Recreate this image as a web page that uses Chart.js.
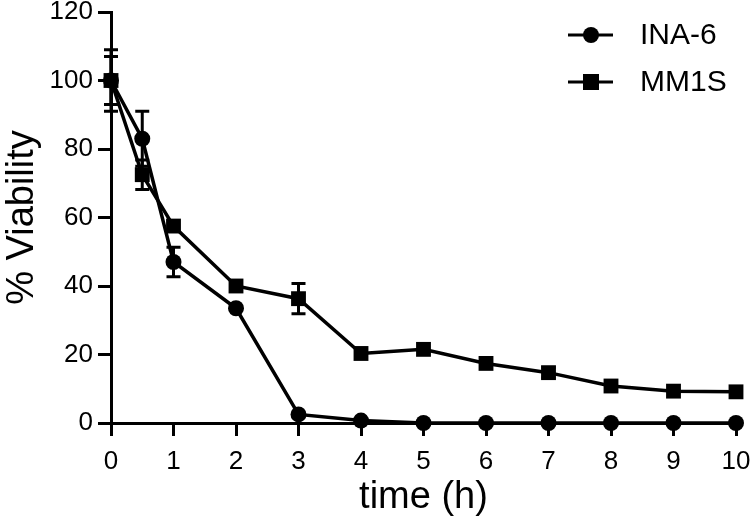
<!DOCTYPE html>
<html>
<head>
<meta charset="utf-8">
<script src="https://cdn.jsdelivr.net/npm/chart.js@4"></script>
<style>
  html, body { margin: 0; padding: 0; background: #fff; }
  #wrap { width: 750px; height: 527px; }
</style>
</head>
<body>
<div id="wrap"><canvas id="chart1" width="750" height="527"></canvas></div>
<script>
// time points (h)
var times = [0, 0.5, 1, 2, 3, 4, 5, 6, 7, 8, 9, 10];
// % viability
var ina6 = [100, 83, 47, 33.5, 2.5, 0.7, 0, 0, 0, 0, 0, 0];
var ina6Err = [9, 8, 4.3, 0, 0, 0, 0, 0, 0, 0, 0, 0];
var mm1s = [100, 72.5, 57.5, 40, 36.3, 20.3, 21.5, 17.4, 14.7, 10.8, 9.3, 9.1];
var mm1sErr = [7, 4.3, 0, 0, 4.4, 0, 0, 0, 1.5, 0, 0, 0];
var xTicks = [0, 1, 2, 3, 4, 5, 6, 7, 8, 9, 10];

var font = "'Liberation Sans', Arial, sans-serif";
var narrow = "'Liberation Sans Narrow', 'Arial Narrow', 'Liberation Sans', sans-serif";

function toPoints(xs, ys) {
  return xs.map(function(x, i) { return { x: x, y: ys[i] }; });
}

//Error bars drawn under the markers
var errorBars = {
  id: 'errorBars',
  beforeDatasetsDraw: function(chart) {
    var ctx = chart.ctx;
    var xs = chart.scales.x, ys = chart.scales.y;
    var errs = [ina6Err, mm1sErr];
    ctx.save();
    ctx.strokeStyle = '#000';
    ctx.lineWidth = 3;
    chart.data.datasets.forEach(function(ds, d) {
      ds.data.forEach(function(p, i) {
        var e = errs[d][i];
        if (!e) return;
        var px = xs.getPixelForValue(p.x);
        var top = ys.getPixelForValue(p.y + e);
        var bot = ys.getPixelForValue(p.y - e);
        ctx.beginPath();
        ctx.moveTo(px, top); ctx.lineTo(px, bot);
        ctx.moveTo(px - 7, top); ctx.lineTo(px + 7, top);
        ctx.moveTo(px - 7, bot); ctx.lineTo(px + 7, bot);
        ctx.stroke();
      });
    });
    ctx.restore();
  }
};

//Legend with line + marker
var lineLegend = {
  id: 'lineLegend',
  afterDraw: function(chart) {
    var ctx = chart.ctx;
    ctx.save();
    chart.data.datasets.forEach(function(ds, i) {
      var y = 35 + i * 47;
      ctx.strokeStyle = '#000';
      ctx.lineWidth = 3;
      ctx.beginPath();
      ctx.moveTo(568, y); ctx.lineTo(613, y);
      ctx.stroke();
      ctx.fillStyle = '#000';
      if (ds.pointStyle === 'rect') {
        ctx.fillRect(591 - 8, y - 8, 16, 16);
      } else {
        ctx.beginPath();
        ctx.arc(591, y, 8, 0, Math.PI * 2);
        ctx.fill();
      }
      ctx.font = '30px ' + font;
      ctx.textBaseline = 'middle';
      ctx.fillText(ds.label, 640, y + 1);
    });
    ctx.restore();
  }
};

var ctx = document.getElementById('chart1').getContext('2d');

var myChart = new Chart(ctx, {
  type: 'line',
  data: {
    datasets: [{
      label: 'INA-6',
      data: toPoints(times, ina6),
      borderColor: '#000',
      backgroundColor: '#000',
      borderWidth: 3.5,
      tension: 0,
      pointStyle: 'circle',
      pointRadius: 8,
      pointBorderWidth: 0,
      clip: false
    }, {
      label: 'MM1S',
      data: toPoints(times, mm1s),
      borderColor: '#000',
      backgroundColor: '#000',
      borderWidth: 3.5,
      tension: 0,
      pointStyle: 'rect',
      pointRadius: 10.5,
      pointBorderWidth: 0,
      clip: false
    }]
  },
  options: {
    responsive: false,
    animation: false,
    events: [],
    layout: { padding: { top: 12, right: 14, left: 0, bottom: 0 } },
    plugins: {
      legend: { display: false },
      tooltip: { enabled: false }
    },
    scales: {
      x: {
        type: 'linear',
        min: 0,
        max: 10,
        afterBuildTicks: function(scale) {
          scale.ticks = xTicks.map(function(v) { return { value: v }; });
        },
        afterFit: function(scale) {
          scale.height = 104;
          scale.paddingLeft = 0;
          scale.paddingRight = 0;
        },
        border: { display: true, color: '#000', width: 3 },
        grid: { drawOnChartArea: false, drawTicks: true, tickLength: 13, tickWidth: 3, tickColor: '#000' },
        ticks: { color: '#000', padding: 10, maxRotation: 0, font: { family: narrow, size: 26 } },
        title: { display: true, text: 'time (h)', color: '#000', padding: { top: 0, bottom: 7 }, font: { family: font, size: 38 } }
      },
      y: {
        min: 0,
        max: 120,
        afterFit: function(scale) {
          scale.width = 111;
          scale.paddingTop = 0;
          scale.paddingBottom = 0;
        },
        border: { display: true, color: '#000', width: 3 },
        grid: { drawOnChartArea: false, drawTicks: true, tickLength: 13, tickWidth: 3, tickColor: '#000' },
        ticks: { color: '#000', stepSize: 20, padding: 5, font: { family: narrow, size: 26 } },
        title: { display: true, text: '% Viability', color: '#000', padding: 0, font: { family: font, size: 38 } }
      }
    }
  },
  plugins: [errorBars, lineLegend]
});
</script>
</body>
</html>
